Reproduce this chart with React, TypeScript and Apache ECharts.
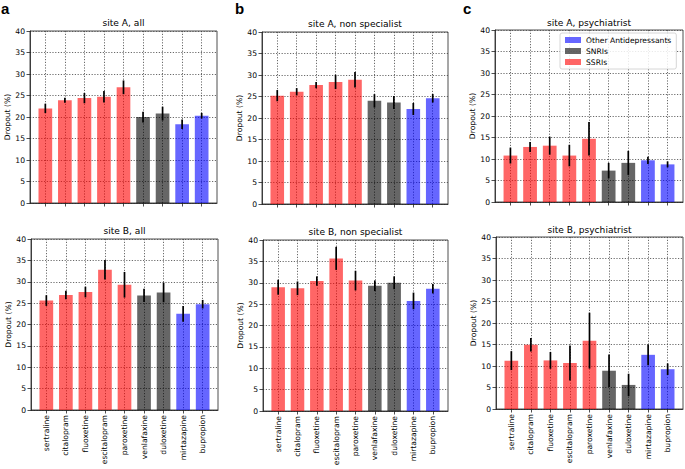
import React, { useEffect, useRef } from "react";
import * as echarts from "echarts";

const drugs = [
  "sertraline", "citalopram", "fluoxetine", "escitalopram", "paroxetine",
  "venlafaxine", "duloxetine", "mirtazapine", "bupropion",
];
const ssriIdx = [0, 1, 2, 3, 4];
const snriIdx = [5, 6];
const otherIdx = [7, 8];
const groupNames = ["Other Antidepressants", "SNRIs", "SSRIs"];
const panelTitles = [
  "site A, all", "site A, non specialist", "site A, psychiatrist",
  "site B, all", "site B, non specialist", "site B, psychiatrist",
];
const panelLetters = ["a", "b", "c"];
const yTicks = { min: 0, max: 40, step: 5 };

const siteAAllMean = [22.0, 23.9, 24.4, 24.7, 26.9, 20.0, 20.8, 18.3, 20.3];
const siteAAllErr = [1.1, 0.6, 1.2, 1.35, 1.6, 1.25, 1.6, 1.1, 0.65];
const siteANonSpecMean = [25.2, 26.1, 27.65, 28.4, 28.9, 24.0, 23.6, 22.1, 24.6];
const siteANonSpecErr = [1.3, 0.85, 0.75, 1.65, 1.8, 1.55, 1.5, 1.4, 1.0];
const siteAPsychMean = [10.8, 12.8, 13.1, 10.8, 14.7, 7.3, 9.1, 9.7, 8.75];
const siteAPsychErr = [1.85, 1.15, 2.1, 2.5, 3.9, 1.8, 2.8, 0.85, 0.7];
const siteBAllMean = [25.6, 26.9, 27.6, 32.8, 29.3, 26.8, 27.5, 22.5, 24.75];
const siteBAllErr = [1.25, 1.0, 1.25, 2.3, 3.0, 1.55, 2.3, 1.85, 1.0];
const siteBNonSpecMean = [28.95, 28.7, 30.4, 35.7, 30.5, 29.3, 30.0, 25.75, 28.6];
const siteBNonSpecErr = [1.75, 1.6, 1.1, 2.7, 2.3, 1.25, 1.5, 1.95, 1.1];
const siteBPsychMean = [11.25, 14.95, 11.3, 10.7, 15.9, 8.9, 5.6, 12.6, 9.25];
const siteBPsychErr = [2.2, 1.55, 1.95, 4.05, 6.5, 3.8, 2.6, 2.4, 1.35];

const panelMeans = [siteAAllMean, siteANonSpecMean, siteAPsychMean, siteBAllMean, siteBNonSpecMean, siteBPsychMean];
const panelErrs = [siteAAllErr, siteANonSpecErr, siteAPsychErr, siteBAllErr, siteBNonSpecErr, siteBPsychErr];

// layout (pixels)
const gridBoxes = [
  { left: 30, top: 31, width: 187, height: 172 },
  { left: 262, top: 32, width: 186, height: 172 },
  { left: 495, top: 30, width: 188, height: 172 },
  { left: 31, top: 239, width: 187, height: 171 },
  { left: 263, top: 240, width: 185, height: 171 },
  { left: 496, top: 237, width: 187, height: 172 },
];
const titleYs = [23, 24, 22.5, 231, 232, 229.5];
const letterXs = [1, 235, 463];

const FONT = "DejaVu Sans";
const FS = 7.6;
const AXIS_COLOR = "#222";
const gridLine = { type: [1.2, 1.6] as any, color: "#444", width: 0.8 };
const colors: Record<string, string> = {
  "SSRIs": "rgba(255,0,0,0.6)",
  "SNRIs": "rgba(0,0,0,0.6)",
  "Other Antidepressants": "rgba(0,0,255,0.6)",
};

function buildOption() {
  const grid: any[] = [];
  const xAxis: any[] = [];
  const yAxis: any[] = [];
  const series: any[] = [];
  const graphic: any[] = [];
  const positions = drugs.map((_, i) => i);

  gridBoxes.forEach((b, p) => {
    grid.push({
      ...b,
      show: true,
      borderColor: AXIS_COLOR,
      borderWidth: 0.8,
      backgroundColor: "transparent",
      containLabel: false,
    });
    xAxis.push({
      type: "value",
      gridIndex: p,
      min: -0.785,
      max: 8.785,
      axisLine: { show: true, onZero: false, lineStyle: { color: AXIS_COLOR, width: 0.8 } },
      axisTick: { show: true, customValues: positions, length: 3.5, lineStyle: { color: AXIS_COLOR, width: 0.8 } },
      axisLabel: {
        show: p >= 3,
        customValues: positions,
        rotate: 90,
        margin: 5,
        fontSize: FS,
        fontFamily: FONT,
        color: "#000",
        formatter: (v: number) => drugs[Math.round(v)] ?? "",
      },
      splitLine: { show: true, lineStyle: gridLine },
    });
    yAxis.push({
      type: "value",
      gridIndex: p,
      min: yTicks.min,
      max: yTicks.max,
      interval: yTicks.step,
      axisLine: { show: true, onZero: false, lineStyle: { color: AXIS_COLOR, width: 0.8 } },
      axisTick: { show: true, length: 3.5, lineStyle: { color: AXIS_COLOR, width: 0.8 } },
      axisLabel: { fontSize: FS, fontFamily: FONT, color: "#000", margin: 5 },
      splitLine: { show: true, lineStyle: gridLine },
      name: "Dropout (%)",
      nameLocation: "middle",
      nameGap: 19,
      nameTextStyle: { fontSize: FS, fontFamily: FONT, color: "#000" },
    });

    const means = panelMeans[p];
    const errs = panelErrs[p];
    const groups: [string, number[]][] = [
      ["SSRIs", ssriIdx],
      ["SNRIs", snriIdx],
      ["Other Antidepressants", otherIdx],
    ];
    groups.forEach(([name, idx]) => {
      series.push({
        type: "bar",
        name,
        xAxisIndex: p,
        yAxisIndex: p,
        barWidth: "70%",
        barGap: "-100%",
        itemStyle: { color: colors[name] },
        data: idx.map((j) => [j, means[j]]),
        z: 2,
      });
    });
    series.push({
      type: "custom",
      xAxisIndex: p,
      yAxisIndex: p,
      silent: true,
      z: 5,
      encode: { x: 0, y: 1 },
      data: means.map((m, j) => [j, m, errs[j]]),
      renderItem: (_params: any, api: any) => {
        const x = api.value(0);
        const m = api.value(1);
        const e = api.value(2);
        const a = api.coord([x, m - e]);
        const c = api.coord([x, m + e]);
        return {
          type: "line",
          shape: { x1: a[0], y1: a[1], x2: c[0], y2: c[1] },
          style: { stroke: "#000", lineWidth: 1.7 },
        };
      },
    });

    graphic.push({
      type: "text",
      x: b.left + b.width / 2,
      y: titleYs[p],
      style: {
        text: panelTitles[p],
        align: "center",
        verticalAlign: "middle",
        fontSize: 9.1,
        fontFamily: FONT,
        fill: "#000",
      },
    });
  });

  panelLetters.forEach((l, i) => {
    graphic.push({
      type: "text",
      x: letterXs[i],
      y: 1,
      style: {
        text: l,
        fontSize: 15,
        fontWeight: "bold",
        fontFamily: "Liberation Sans",
        fill: "#000",
        verticalAlign: "top",
      },
    });
  });

  return {
    animation: false,
    backgroundColor: "#fff",
    grid,
    xAxis,
    yAxis,
    series,
    graphic,
    legend: {
      data: groupNames,
      orient: "vertical",
      left: 560,
      top: 33,
      icon: "rect",
      itemWidth: 16,
      itemHeight: 6,
      itemGap: 3,
      padding: [3, 5, 3, 5],
      borderColor: "#ccc",
      borderWidth: 0.8,
      borderRadius: 2,
      backgroundColor: "rgba(255,255,255,0.85)",
      selectedMode: false,
      textStyle: { fontSize: FS, fontFamily: FONT, color: "#000" },
    },
  };
}

export default function App() {
  const ref = useRef<HTMLDivElement>(null);
  useEffect(() => {
    if (!ref.current) return;
    const chart = echarts.init(ref.current, undefined, { renderer: "svg" });
    chart.setOption(buildOption() as any);
    return () => chart.dispose();
  }, []);
  return (
    <div
      ref={ref}
      style={{ position: "fixed", left: 0, top: 0, width: 685, height: 469 }}
    />
  );
}
